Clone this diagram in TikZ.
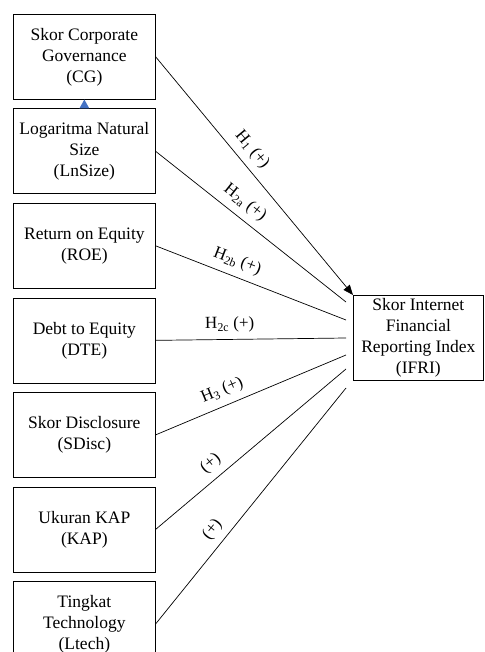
\documentclass[tikz,border=0pt]{standalone}
\usepackage{fontspec}
\setmainfont{Liberation Serif}
\usetikzlibrary{arrows.meta, positioning, calc}
\definecolor{officeblue}{HTML}{4472C4}

\begin{document}
\begin{tikzpicture}[x=1pt, y=1pt, node distance=8.8pt, line width=0.7pt,
  var/.style={rectangle, draw, minimum width=142pt, minimum height=85pt, align=center, inner sep=1pt, font=\fontsize{17.5}{21}\selectfont},
  hyp/.style={sloped, above, inner sep=7pt, pos=0.4, font=\fontsize{17}{18}\selectfont}]
  \useasboundingbox (0,0) rectangle (484,-652);
  \node[var, anchor=north west] (CG) at (13,-14) {Skor Corporate\\Governance\\(CG)};
  \node[var, below=of CG] (LnSize) {Logaritma Natural\\Size\\(LnSize)};
  \node[var, below=of LnSize] (ROE) {Return on Equity\\(ROE)};
  \node[var, below=of ROE] (DTE) {Debt to Equity\\(DTE)};
  \node[var, below=of DTE] (SDisc) {Skor Disclosure\\(SDisc)};
  \node[var, below=of SDisc] (KAP) {Ukuran KAP\\(KAP)};
  \node[var, below=of KAP] (Ltech) {Tingkat\\Technology\\(Ltech)};
  \node[var, minimum width=130pt, anchor=north west] (IFRI) at (353,-295) {Skor Internet\\Financial\\Reporting Index\\(IFRI)};
  % free ends near the dependent box
  \foreach \n/\dy in {2a/7, 2b/25, 2c/43, 3/60, 6/74, 7/93}
    \coordinate (in\n) at ($(IFRI.north west)+(-7,-\dy)$);
  \draw[-{Triangle[length=10pt, width=8pt]}] (CG.east) -- node[hyp, pos=0.43] {H\textsubscript{1} (+)} (IFRI.north west);
  \draw (LnSize.east) -- node[hyp, pos=0.42] {H\textsubscript{2a} (+)} (in2a);
  \draw (ROE.east) -- node[hyp] {H\textsubscript{2b} (+)} (in2b);
  \draw (DTE.east) -- node[hyp, pos=0.39] {H\textsubscript{2c} (+)} (in2c);
  \draw (SDisc.east) -- node[hyp, pos=0.38] {H\textsubscript{3} (+)} (in3);
  \draw (KAP.east) -- node[hyp, pos=0.34] {(+)} (in6);
  \draw (Ltech.east) -- node[hyp, pos=0.36] {(+)} (in7);
  \fill[officeblue] ($(LnSize.north)+(-5,0)$) -- ($(LnSize.north)+(5,0)$) -- ($(LnSize.north)+(0,9)$) -- cycle;
\end{tikzpicture}
\end{document}
